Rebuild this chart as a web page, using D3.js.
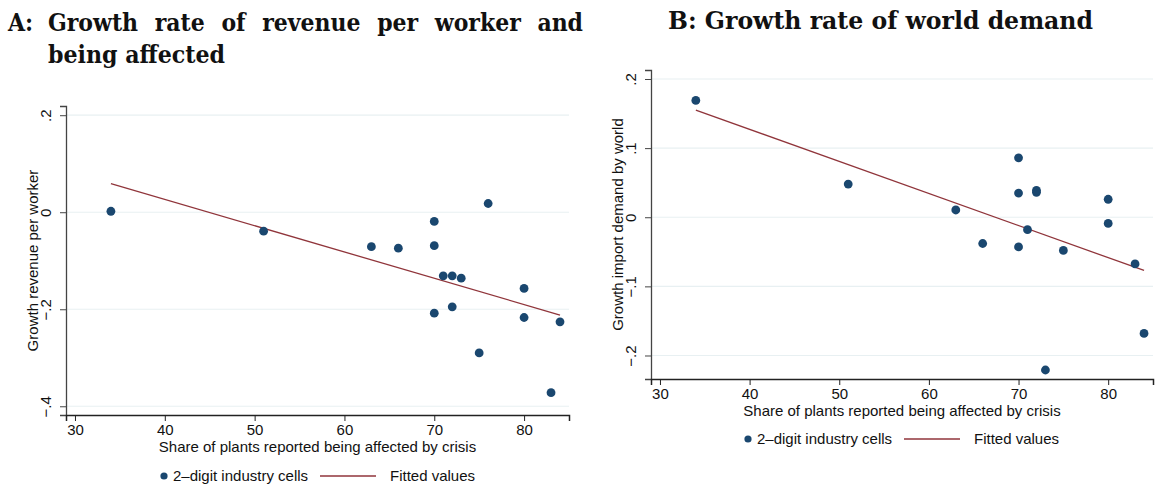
<!DOCTYPE html>
<html>
<head>
<meta charset="utf-8">
<style>
  body { margin: 0; background: #fff; }
  svg text { font-family: "Liberation Sans", Arial, sans-serif; fill: #111; }
  .title { font-family: "DejaVu Serif", "Liberation Serif", serif; font-weight: bold; font-size: 25px; }
  .grid line { stroke: #e8f0f2; stroke-width: 1.2px; }
  .fit { fill: none; stroke: #90353b; stroke-width: 1.3px; }
  .dot { fill: #1a476f; }
</style>
</head>
<body>
<svg width="1156" height="485"></svg>
<script src="https://cdn.jsdelivr.net/npm/d3@7"></script>
<script>

// share of plants affected (x) for the 2-digit industry cells
var shareA = [34, 51, 63, 66, 70, 70, 76, 71, 72, 73, 80, 72, 70, 80, 84, 75, 83];
var revenueA = [0.002, -0.039, -0.071, -0.074, -0.019, -0.069, 0.018, -0.131, -0.131, -0.136,
                -0.157, -0.195, -0.208, -0.217, -0.226, -0.290, -0.372];
var fitShareA = [34, 84];
var fitRevenueA = [0.059, -0.212];

var shareB = [34, 51, 63, 66, 70, 70, 70, 71, 72, 72, 75, 80, 80, 83, 84, 73];
var demandB = [0.169, 0.048, 0.0105, -0.038, 0.086, 0.035, -0.043, -0.018, 0.036, 0.039,
               -0.048, 0.026, -0.009, -0.0675, -0.168, -0.221];
var fitShareB = [34, 84];
var fitDemandB = [0.155, -0.077];

var xTicks = [30, 40, 50, 60, 70, 80];
var yTicksA = [0.2, 0, -0.2, -0.4];
var yTicksB = [0.2, 0.1, 0, -0.1, -0.2];

var svg = d3.select("svg");

function fmt(v) {
  if (v === 0) return "0";
  var s = String(Math.abs(v)).replace(/^0/, "");
  return (v < 0 ? "\u2212" : "") + s;
}

function panel(o) {
  var g = svg.append("g");
  var x = d3.scaleLinear().domain([29, 85]).range([o.left, o.right]);
  var y = d3.scaleLinear().domain(o.yDomain).range([o.bottom, o.top]);

  // grid lines
  g.append("g").attr("class", "grid")
    .selectAll("line").data(o.yTicks).enter().append("line")
    .attr("x1", o.left + 1).attr("x2", o.right)
    .attr("y1", function(d) { return y(d); }).attr("y2", function(d) { return y(d); });

  // y axis
  var ya = g.append("g").attr("transform", "translate(" + o.left + ",0)")
    .call(d3.axisLeft(y).tickValues(o.yTicks).tickSize(6).tickPadding(4).tickFormat(fmt));
  ya.select(".domain").attr("stroke", "#444").attr("stroke-width", 1.3);
  ya.selectAll(".tick line").attr("stroke", "#444");
  ya.selectAll(".tick text")
    .attr("font-size", 15).attr("x", null).attr("dy", null)
    .attr("text-anchor", "middle")
    .attr("transform", "translate(-15,0) rotate(-90)")
    .attr("y", 0);

  // x axis
  var xa = g.append("g").attr("transform", "translate(0," + o.bottom + ")")
    .call(d3.axisBottom(x).tickValues(xTicks).tickSize(6).tickPadding(3));
  xa.select(".domain").attr("stroke", "#222").attr("stroke-width", 1.5);
  xa.selectAll(".tick line").attr("stroke", "#222");
  xa.selectAll(".tick text").attr("font-size", 15);

  // axis titles
  g.append("text")
    .attr("x", (o.left + o.right) / 2).attr("y", o.bottom + 37)
    .attr("text-anchor", "middle").attr("font-size", 15)
    .text("Share of plants reported being affected by crisis");
  g.append("text")
    .attr("transform", "translate(" + (o.left - 28) + "," + ((o.top + o.bottom) / 2) + ") rotate(-90)")
    .attr("text-anchor", "middle").attr("font-size", 15)
    .text(o.yTitle);

  // fitted line
  var line = d3.line().x(function(d) { return x(d[0]); }).y(function(d) { return y(d[1]); });
  g.append("path").attr("class", "fit")
    .attr("d", line(d3.zip(o.fitX, o.fitY)));

  // points
  g.selectAll(".dot").data(d3.zip(o.xs, o.ys)).enter().append("circle")
    .attr("class", "dot")
    .attr("cx", function(d) { return x(d[0]); })
    .attr("cy", function(d) { return y(d[1]); })
    .attr("r", 4.4);

  // legend
  var lg = g.append("g").attr("transform", "translate(" + o.legendX + "," + o.legendY + ")");
  lg.append("circle").attr("class", "dot").attr("cx", 0).attr("cy", 0).attr("r", 3.6);
  lg.append("text").attr("x", 9).attr("y", 5).attr("font-size", 15).text("2\u2013digit industry cells");
  lg.append("line").attr("class", "fit").attr("x1", 156).attr("x2", 212).attr("y1", 0).attr("y2", 0);
  lg.append("text").attr("x", 226).attr("y", 5).attr("font-size", 15).text("Fitted values");
}

panel({
  left: 66, right: 569, top: 106, bottom: 415,
  yDomain: [-0.418, 0.219], yTicks: yTicksA,
  xs: shareA, ys: revenueA, fitX: fitShareA, fitY: fitRevenueA,
  yTitle: "Growth revenue per worker",
  legendX: 164, legendY: 476
});

panel({
  left: 651, right: 1153, top: 70, bottom: 379,
  yDomain: [-0.234, 0.213], yTicks: yTicksB,
  xs: shareB, ys: demandB, fitX: fitShareB, fitY: fitDemandB,
  yTitle: "Growth import demand by world",
  legendX: 748, legendY: 439
});

// titles, squeezed a little horizontally to look like a schoolbook face
var sx = 0.88;
var tg = svg.append("g").attr("transform", "scale(" + sx + ",1)");
function justified(text, x, y, width) {
  var t = tg.append("text").attr("class", "title").attr("x", x / sx).attr("y", y).text(text);
  var gaps = text.split(" ").length - 1;
  var extra = (width / sx - t.node().getComputedTextLength()) / gaps;
  t.attr("word-spacing", extra);
  return t;
}
tg.append("text").attr("class", "title").attr("x", 8 / sx).attr("y", 31).text("A:");
justified("Growth rate of revenue per worker and", 48, 31, 535);
tg.append("text").attr("class", "title").attr("x", 48 / sx).attr("y", 63)
  .attr("textLength", 177 / sx).attr("lengthAdjust", "spacingAndGlyphs")
  .text("being affected");
tg.append("text").attr("class", "title").attr("x", 668 / sx).attr("y", 29)
  .attr("textLength", 425 / sx).attr("lengthAdjust", "spacingAndGlyphs")
  .text("B: Growth rate of world demand");

</script>
</body>
</html>
